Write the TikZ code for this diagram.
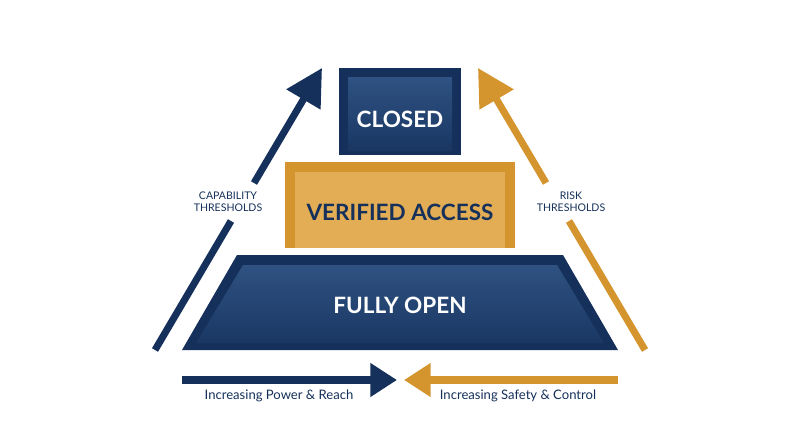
\documentclass[tikz,border=0pt]{standalone}
\usepackage{fontspec}
\setmainfont{Lato}
\usetikzlibrary{arrows.meta}

\definecolor{navy}{HTML}{15305A}
\definecolor{navyhi}{HTML}{2F5282}
\definecolor{navylo}{HTML}{1A3763}
\definecolor{gold}{HTML}{D4952E}
\definecolor{goldin}{HTML}{E3AD55}

\tikzset{
  tier/.style={font=\fontsize{16}{19}\selectfont\bfseries},
  sidelabel/.style={font=\fontsize{7.5}{8.5}\selectfont, text=navy, align=center},
  flowlabel/.style={font=\fontsize{9.3}{11}\selectfont, text=navy},
  navyline/.style={draw=navy, line width=5pt},
  goldline/.style={draw=gold, line width=5pt},
  bigtip/.style={-{Triangle[length=26pt, width=27pt]}},
  flowtip/.style={-{Triangle[length=19pt, width=23pt]}}
}

\begin{document}
\begin{tikzpicture}[x=0.025cm, y=-0.025cm]
    \useasboundingbox (0,0) rectangle (800,447);

    % CLOSED
    \fill[navy] (339,68) rectangle (461,155);
    \shade[top color=navyhi, bottom color=navylo] (348,77) rectangle (452,150);
    \node[tier, text=white] (closed) at (400,119) {CLOSED};

    % VERIFIED ACCESS
    \fill[gold] (285,162) rectangle (515,248);
    \fill[goldin] (295,172) rectangle (505,248);
    \node[tier, text=navy] (verified) at (400,212) {VERIFIED ACCESS};

    % FULLY OPEN
    \fill[navy] (237,255) -- (563,255) -- (618,350) -- (182,350) -- cycle;
    \shade[top color=navyhi, bottom color=navylo] (243,265) -- (557,265) -- (604,343) -- (196,343) -- cycle;
    \node[tier, text=white] (open) at (400,305) {FULLY OPEN};

    % side arrows
    \coordinate (capfoot) at (155,350);
    \coordinate (caplow) at (231,221);
    \coordinate (caphigh) at (254,183);
    \coordinate (captip) at (322,68);
    \node[sidelabel] (caplabel) at (228,202) {CAPABILITY\\THRESHOLDS};
    \draw[navyline] (capfoot) -- (caplow);
    \draw[navyline, bigtip] (caphigh) -- (captip);

    \coordinate (riskfoot) at (645,350);
    \coordinate (risklow) at (569,221);
    \coordinate (riskhigh) at (546,183);
    \coordinate (risktip) at (478,68);
    \node[sidelabel] (risklabel) at (571,202) {RISK\\THRESHOLDS};
    \draw[goldline] (riskfoot) -- (risklow);
    \draw[goldline, bigtip] (riskhigh) -- (risktip);

    % bottom arrows
    \coordinate (powerstart) at (182,380);
    \coordinate (powertip) at (397,380);
    \coordinate (safetystart) at (618,380);
    \coordinate (safetytip) at (404,380);
    \draw[navyline, line width=5.5pt, flowtip] (powerstart) -- (powertip);
    \draw[goldline, line width=5.5pt, flowtip] (safetystart) -- (safetytip);
    \node[flowlabel] (power) at (279,396) {Increasing Power \& Reach};
    \node[flowlabel] (safety) at (518,396) {Increasing Safety \& Control};
\end{tikzpicture}
\end{document}
